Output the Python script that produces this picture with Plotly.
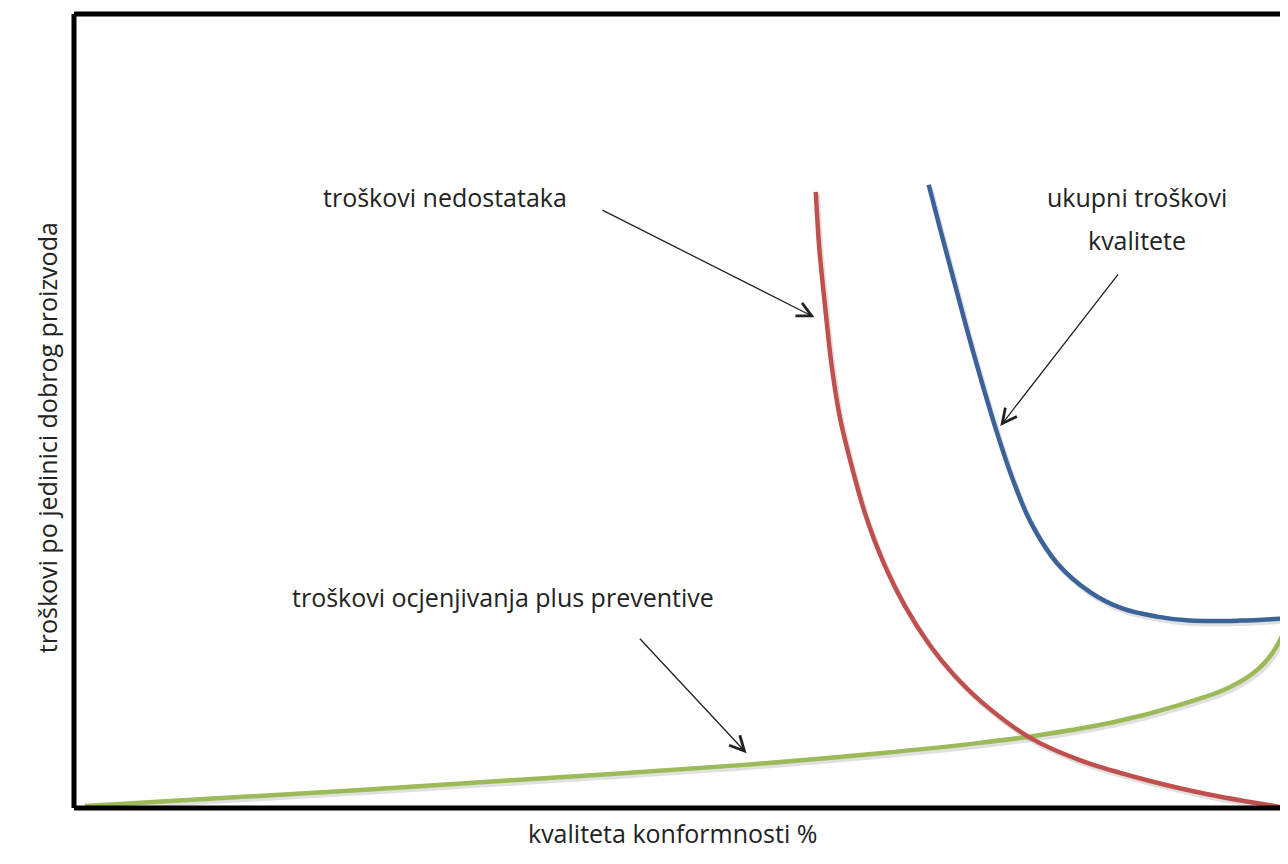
"""Costs of quality vs. quality of conformance (sketch chart)."""
import plotly.graph_objects as go

# x: kvaliteta konformnosti (0-100 of plot width), y: trošak (0-100 of plot height)
green_x = [0.9, 10.4, 21.9, 35.1, 54.9, 66.4, 74.6, 79.6, 85.6, 91.1, 95.2, 97.7, 99.3, 100.2]
green_y = [0.25, 1.1, 2.1, 3.4, 5.4, 6.9, 8.2, 9.2, 10.8, 13.0, 15.2, 17.7, 21.0, 24.7]

red_x = [61.1, 61.4, 61.9, 62.4, 63.1, 64.1, 65.2, 66.6, 68.5, 70.5, 72.4, 74.8, 78.7, 82.9,
         88.4, 93.8, 99.9]
red_y = [77.6, 70.3, 62.7, 55.8, 49.1, 42.8, 36.9, 31.2, 25.3, 20.5, 16.9, 13.3, 8.9, 6.0,
         3.5, 1.6, 0.0]

blue_x = [70.4, 71.4, 72.5, 73.6, 74.8, 76.0, 77.3, 78.8, 81.0, 83.7, 86.4, 89.2, 91.9, 96.0,
          100.0]
blue_y = [78.5, 72.6, 66.3, 60.0, 53.5, 47.4, 41.5, 36.0, 30.8, 27.2, 25.1, 24.1, 23.6, 23.6,
          23.9]

# (label, text x, text y)
labels = [
    ("troškovi nedostataka", 30.6, 77.0),
    ("ukupni troškovi", 87.6, 77.0),
    ("kvalitete", 87.6, 71.5),
    ("troškovi ocjenjivanja plus preventive", 35.3, 26.6),
]
# (start x, start y, tip x, tip y)
arrows = [
    (43.4, 75.4, 61.0, 61.8),
    (86.1, 67.4, 76.3, 48.1),
    (46.5, 21.5, 55.4, 6.9),
]

x_title = "kvaliteta konformnosti %"
y_title = "troškovi po jedinici dobrog proizvoda"

FONT = "Open Sans"
TEXT_COLOR = "#222222"

fig = go.Figure()

curves = [
    (green_x, green_y, "#9BBB59"),
    (red_x, red_y, "#C0504D"),
    (blue_x, blue_y, "#3B6397"),
]

# soft drop shadows first
for xs, ys, _ in curves:
    fig.add_trace(go.Scatter(
        x=[v + 0.15 for v in xs], y=[v - 0.35 for v in ys],
        mode="lines", line=dict(color="rgba(0,0,0,0.12)", width=5, shape="spline", smoothing=1.0),
        hoverinfo="skip", showlegend=False,
    ))

for xs, ys, color in curves:
    fig.add_trace(go.Scatter(
        x=xs, y=ys, mode="lines",
        line=dict(color=color, width=4.5, shape="spline", smoothing=1.0),
        showlegend=False,
    ))

for text, tx, ty in labels:
    fig.add_annotation(x=tx, y=ty, text=text, showarrow=False,
                       font=dict(family=FONT, size=25, color=TEXT_COLOR))

for sx, sy, ex, ey in arrows:
    fig.add_annotation(x=ex, y=ey, ax=sx, ay=sy, xref="x", yref="y", axref="x", ayref="y",
                       text="", showarrow=True, arrowhead=5, arrowsize=2.2,
                       arrowwidth=1.3, arrowcolor="#222222")

fig.add_annotation(x=0.493, y=-0.0554, xref="paper", yref="paper", text=x_title,
                   showarrow=False, font=dict(family=FONT, size=25, color=TEXT_COLOR))
fig.add_annotation(x=-0.0379, y=0.467, xref="paper", yref="paper", text=y_title,
                   textangle=-90, showarrow=False,
                   font=dict(family=FONT, size=25, color=TEXT_COLOR))

# frame: left, top and bottom sides (right side runs off the picture)
for x0, y0, x1, y1 in [(0, 0, 0, 1), (0, 1, 1.02, 1), (0, 0, 1.02, 0)]:
    fig.add_shape(type="line", xref="paper", yref="paper", x0=x0, y0=y0, x1=x1, y1=y1,
                  line=dict(color="black", width=5))

fig.update_xaxes(range=[0, 100], visible=False)
fig.update_yaxes(range=[0, 100], visible=False)
fig.update_layout(
    width=1288, height=864,
    margin=dict(l=66, r=8, t=6, b=64),
    plot_bgcolor="white", paper_bgcolor="white",
)
fig.write_html("out.html")
